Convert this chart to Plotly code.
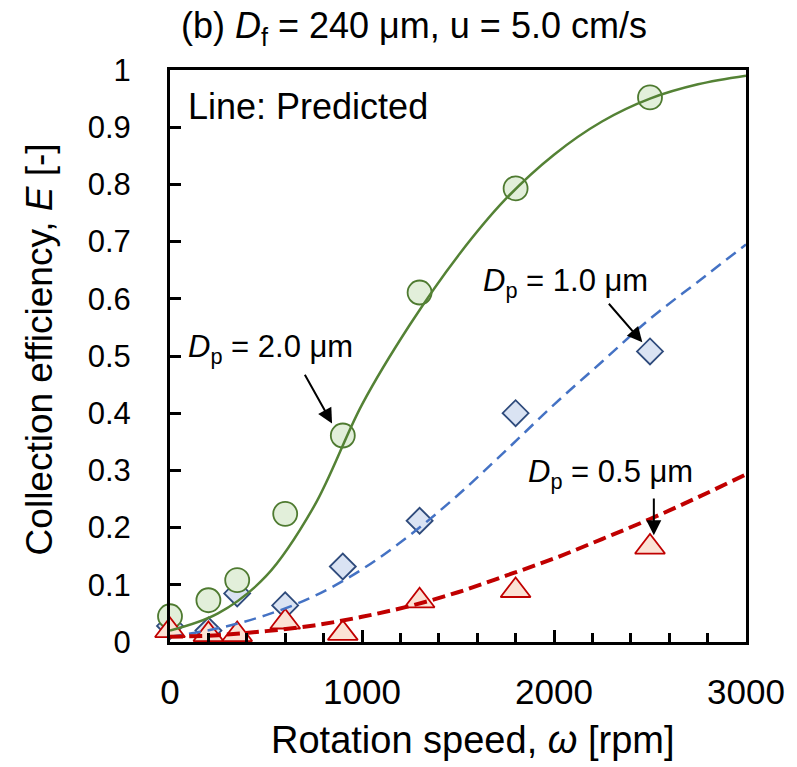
import plotly.graph_objects as go

# ---- data ----
speed = [0, 200, 350, 600, 900, 1300, 1800, 2500]
E_dp20 = [0.045, 0.073, 0.108, 0.224, 0.361, 0.611, 0.793, 0.952]
E_dp10 = [0.028, 0.020, 0.085, 0.064, 0.132, 0.212, 0.400, 0.508]
E_dp05 = [0.020, 0.013, 0.013, 0.035, 0.015, 0.072, 0.090, 0.166]

pred_speed = [0, 250, 500, 750, 1000, 1250, 1500, 1750, 2000, 2250, 2500, 2750, 3000]
pred_dp20 = [0.020, 0.050, 0.115, 0.237, 0.415, 0.555, 0.675, 0.775, 0.852, 0.910, 0.950, 0.975, 0.990]
pred_dp10 = [0.009, 0.024, 0.047, 0.080, 0.127, 0.187, 0.257, 0.335, 0.415, 0.490, 0.565, 0.630, 0.695]
pred_dp05 = [0.009, 0.012, 0.019, 0.029, 0.044, 0.063, 0.087, 0.116, 0.146, 0.180, 0.215, 0.253, 0.293]

x_ticks = [0, 1000, 2000, 3000]
y_ticks = [0, 0.1, 0.2, 0.3, 0.4, 0.5, 0.6, 0.7, 0.8, 0.9, 1]

FONT = "Liberation Sans, Arial, sans-serif"

fig = go.Figure()

# markers (drawn first, under lines)
fig.add_trace(go.Scatter(x=speed, y=E_dp10, mode="markers", cliponaxis=False,
    marker=dict(symbol="diamond", size=20, color="#DAE3F3",
                line=dict(color="#2F4B7C", width=1.8)), showlegend=False))
fig.add_trace(go.Scatter(x=speed, y=E_dp20, mode="markers", cliponaxis=False,
    marker=dict(symbol="circle", size=24, color="#E2EFDA",
                line=dict(color="#4E7A30", width=1.8)), showlegend=False))
fig.add_trace(go.Scatter(x=speed, y=E_dp05, mode="markers", cliponaxis=False,
    marker=dict(symbol="triangle-up", size=26, color="#FBE2D5",
                line=dict(color="#C00000", width=1.8)), showlegend=False))

# predicted lines
fig.add_trace(go.Scatter(x=pred_speed, y=pred_dp20, mode="lines",
    line=dict(color="#548235", width=2.5, shape="spline"), showlegend=False))
fig.add_trace(go.Scatter(x=pred_speed, y=pred_dp10, mode="lines",
    line=dict(color="#4472C4", width=2.5, dash="12px,7px", shape="spline"), showlegend=False))
fig.add_trace(go.Scatter(x=pred_speed, y=pred_dp05, mode="lines",
    line=dict(color="#C00000", width=4, dash="13px,6px", shape="spline"), showlegend=False))

ann = []
ann.append(dict(xref="paper", yref="paper", x=0.423, y=1.0, yshift=42, xanchor="center", yanchor="middle",
                text="(b) <i>D</i><sub>f</sub> = 240 μm, u = 5.0 cm/s", showarrow=False,
                font=dict(size=36, color="black", family=FONT)))
ann.append(dict(xref="paper", yref="paper", x=0.027, y=0.937, xanchor="left", yanchor="middle",
                text="Line: Predicted", showarrow=False, font=dict(size=36, color="black", family=FONT)))
# axis titles
ann.append(dict(xref="paper", yref="paper", x=0.526, y=-0.172, xanchor="center", yanchor="middle",
                text="Rotation speed, <i>ω</i> [rpm]", showarrow=False,
                font=dict(size=38, color="black", family=FONT)))
ann.append(dict(xref="paper", yref="paper", x=-0.227, y=0.512, xanchor="center", yanchor="middle",
                textangle=-90, text="Collection efficiency, <i>E</i> [-]", showarrow=False,
                font=dict(size=37, color="black", family=FONT)))
# labels
ann.append(dict(x=522, y=0.512, text="<i>D</i><sub>p</sub> = 2.0 μm", showarrow=False,
                xanchor="center", yanchor="middle", font=dict(size=31, color="black", family=FONT)))
ann.append(dict(x=2062, y=0.627, text="<i>D</i><sub>p</sub> = 1.0 μm", showarrow=False,
                xanchor="center", yanchor="middle", font=dict(size=31, color="black", family=FONT)))
ann.append(dict(x=2294, y=0.293, text="<i>D</i><sub>p</sub> = 0.5 μm", showarrow=False,
                xanchor="center", yanchor="middle", font=dict(size=31, color="black", family=FONT)))
# arrows
for (tx, ty, hx, hy) in [(698, 0.470, 844, 0.382), (2279, 0.594, 2460, 0.524), (2520, 0.2535, 2520, 0.1865)]:
    ann.append(dict(x=hx, y=hy, ax=tx, ay=ty, axref="x", ayref="y", text="", showarrow=True,
                    arrowhead=2, arrowsize=1.5, arrowwidth=2, arrowcolor="black", standoff=0, startstandoff=0))

fig.update_layout(
    width=797, height=767,
    margin=dict(l=170, r=45, t=70, b=125),
    paper_bgcolor="white", plot_bgcolor="white",
    font=dict(family=FONT, color="black"),
    annotations=ann,
    xaxis=dict(range=[0, 3000], tickvals=x_ticks, ticktext=[str(v) for v in x_ticks],
               ticks="inside", ticklen=12, tickwidth=2.5, tickcolor="black",
               minor=dict(dtick=200, tick0=0, ticks="inside", ticklen=9, tickwidth=2.5, tickcolor="black"),
               showline=True, linecolor="black", linewidth=3, mirror=True, showgrid=False, zeroline=False,
               tickfont=dict(size=35, family=FONT), ticklabelstandoff=17),
    yaxis=dict(range=[0, 1], tickvals=y_ticks, ticktext=[("%g" % v) for v in y_ticks],
               ticks="inside", ticklen=11, tickwidth=2.5, tickcolor="black",
               showline=True, linecolor="black", linewidth=3, mirror=True, showgrid=False, zeroline=False,
               tickfont=dict(size=31, family=FONT), ticklabelstandoff=30),
)

fig.write_html("out.html")
